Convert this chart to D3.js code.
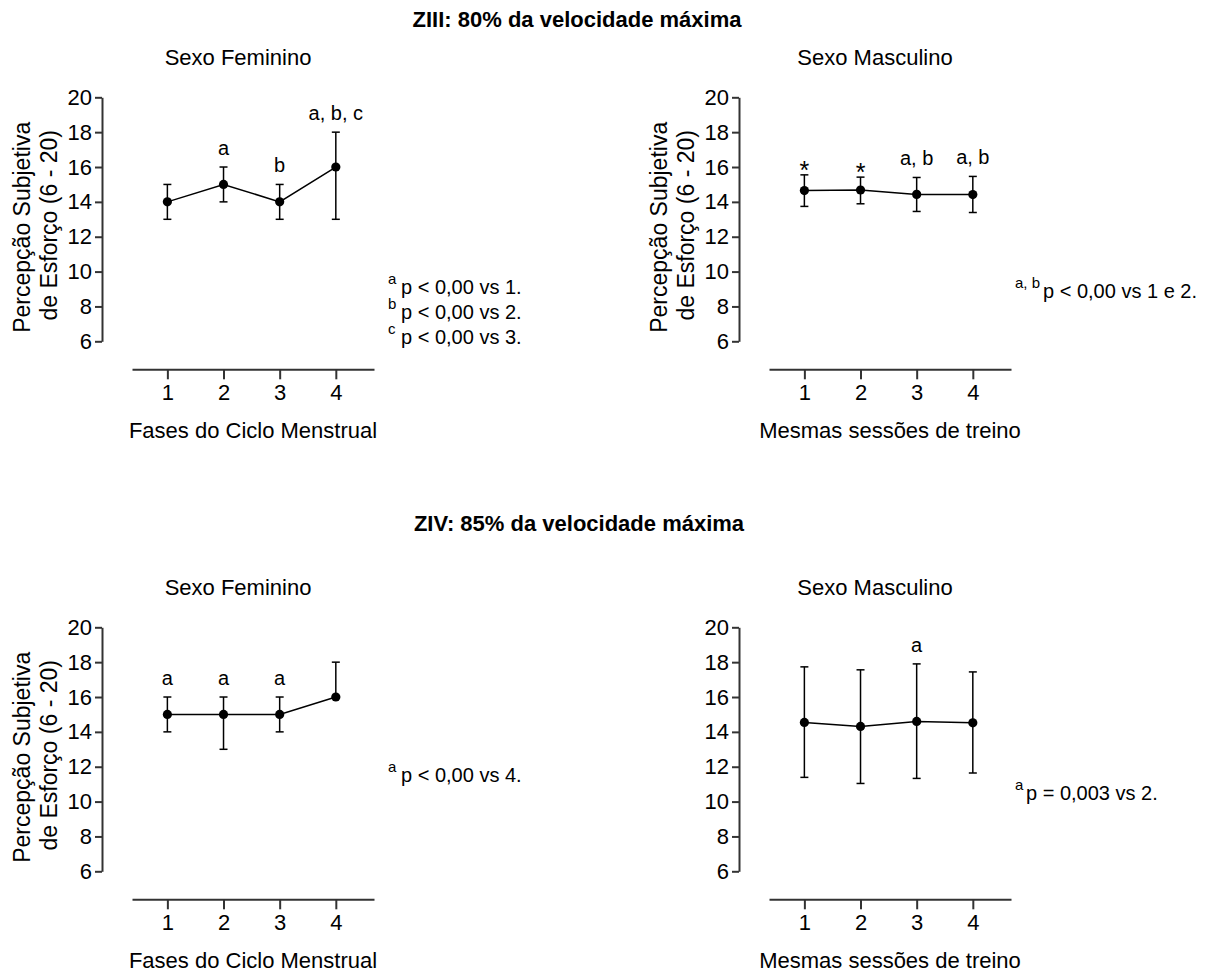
<!DOCTYPE html>
<html lang="pt">
<head>
<meta charset="utf-8">
<title>Percepção Subjetiva de Esforço - ZIII e ZIV</title>
<script src="https://cdn.jsdelivr.net/npm/d3@7"></script>
<style>
  body { margin: 0; background: #fff; }
  text { font-family: "Liberation Sans", Arial, sans-serif; fill: #000; }

  .main-title { font-size: 22px; font-weight: bold; text-anchor: middle; }
  .panel-title { font-size: 22px; text-anchor: middle; }
  .axis-title { font-size: 22px; text-anchor: middle; }
  .y-title { font-size: 23px; text-anchor: middle; }

  .axis path, .axis line { stroke: #333; stroke-width: 2px; }
  .axis text { font-family: "Liberation Sans", Arial, sans-serif; font-size: 22px; fill: #000; }

  .err { stroke: #000; stroke-width: 1.5px; }
  .mean-line { fill: none; stroke: #000; stroke-width: 1.5px; }
  .dot { fill: #000; }
  .note { font-size: 20px; text-anchor: middle; }
  .note.star { font-size: 25px; }
  .legend { font-size: 20px; }
  .legend-sup { font-size: 15px; }
</style>
</head>
<body>
<div id="chart"></div>
<script>

  // x categories and y ticks
  var points = [1, 2, 3, 4];
  var yTicks = [6, 8, 10, 12, 14, 16, 18, 20];

  // ZIII - feminino (fases do ciclo menstrual)
  var z3FemMean  = [14, 15, 14, 16];
  var z3FemUpper = [15, 16, 15, 18];
  var z3FemLower = [13, 14, 13, 13];
  var z3FemNotes = ["", "a", "b", "a, b, c"];

  // ZIII - masculino (mesmas sessoes)
  var z3MascMean  = [14.65, 14.68, 14.43, 14.42];
  var z3MascUpper = [15.55, 15.42, 15.40, 15.46];
  var z3MascLower = [13.74, 13.89, 13.45, 13.39];
  var z3MascNotes = ["*", "*", "a, b", "a, b"];

  // ZIV - feminino
  var z4FemMean  = [15, 15, 15, 16];
  var z4FemUpper = [16, 16, 16, 18];
  var z4FemLower = [14, 13, 14, 16];
  var z4FemNotes = ["a", "a", "a", ""];

  // ZIV - masculino
  var z4MascMean  = [14.54, 14.31, 14.60, 14.52];
  var z4MascUpper = [17.73, 17.56, 17.90, 17.44];
  var z4MascLower = [11.39, 11.04, 11.33, 11.64];
  var z4MascNotes = ["", "", "a", ""];

  var z3FemLegend  = [["a", "p < 0,00 vs 1."], ["b", "p < 0,00 vs 2."], ["c", "p < 0,00 vs 3."]];
  var z3MascLegend = [["a, b", "p < 0,00 vs 1 e 2."]];
  var z4FemLegend  = [["a", "p < 0,00 vs 4."]];
  var z4MascLegend = [["a", "p = 0,003 vs 2."]];

  var width = 1208,
      height = 974,
      plotH = 244,
      yTitle = ["Percepção Subjetiva", "de Esforço (6 - 20)"];

  var svg = d3.select("#chart")
              .append("svg")
              .attr("width", width)
              .attr("height", height);

  svg.append("text").attr("class", "main-title")
     .attr("x", 577).attr("y", 27)
     .text("ZIII: 80% da velocidade máxima");

  svg.append("text").attr("class", "main-title")
     .attr("x", 579).attr("y", 531)
     .text("ZIV: 85% da velocidade máxima");

  var panels = [
    {left: 102, top: 97.3, title: "Sexo Feminino", xTitle: "Fases do Ciclo Menstrual", yTitle: true,
     mean: z3FemMean, upper: z3FemUpper, lower: z3FemLower, notes: z3FemNotes,
     legend: z3FemLegend, legX: 401, supX: 388, legY: 294},
    {left: 739, top: 97.3, title: "Sexo Masculino", xTitle: "Mesmas sessões de treino", yTitle: true,
     mean: z3MascMean, upper: z3MascUpper, lower: z3MascLower, notes: z3MascNotes,
     legend: z3MascLegend, legX: 1043, supX: 1015, legY: 298},
    {left: 102, top: 627.3, title: "Sexo Feminino", xTitle: "Fases do Ciclo Menstrual", yTitle: true,
     mean: z4FemMean, upper: z4FemUpper, lower: z4FemLower, notes: z4FemNotes,
     legend: z4FemLegend, legX: 401, supX: 388, legY: 782},
    {left: 739, top: 627.3, title: "Sexo Masculino", xTitle: "Mesmas sessões de treino", yTitle: false,
     mean: z4MascMean, upper: z4MascUpper, lower: z4MascLower, notes: z4MascNotes,
     legend: z4MascLegend, legX: 1026, supX: 1015, legY: 800}
  ];

  panels.forEach(drawPanel);

  function drawPanel(p) {

    var g = svg.append("g").attr("transform", "translate(" + p.left + "," + p.top + ")");

    var xScale = d3.scaleLinear()
                   .domain([0.37, 4.68])
                   .range([30, 272]);

    var yScale = d3.scaleLinear()
                   .domain([6, 20])
                   .range([plotH, 0]);

    var yAxis = d3.axisLeft(yScale)
                  .tickValues(yTicks)
                  .tickSize(7)
                  .tickSizeOuter(0)
                  .tickPadding(3);

    var xAxis = d3.axisBottom(xScale)
                  .tickValues(points)
                  .tickFormat(d3.format("d"))
                  .tickSize(10)
                  .tickSizeOuter(0)
                  .tickPadding(5);

    g.append("g").attr("class", "y axis").call(yAxis);

    g.append("g").attr("class", "x axis")
     .attr("transform", "translate(0," + (plotH + 28) + ")")
     .call(xAxis);

    g.append("text").attr("class", "panel-title")
     .attr("x", 272 / 2).attr("y", -32)
     .text(p.title);

    g.append("text").attr("class", "axis-title")
     .attr("x", (30 + 272) / 2).attr("y", 341)
     .text(p.xTitle);

    if (p.yTitle) {
      g.append("text").attr("class", "y-title")
       .attr("transform", "rotate(-90)")
       .attr("x", -130).attr("y", -72.5)
       .text(yTitle[0]);
      g.append("text").attr("class", "y-title")
       .attr("transform", "rotate(-90)")
       .attr("x", -128).attr("y", -45)
       .text(yTitle[1]);
    }

    var rows = points.map(function(d, i) {
      return {x: d, mean: p.mean[i], upper: p.upper[i], lower: p.lower[i], note: p.notes[i]};
    });

    // error bars
    var bars = g.selectAll(".bar").data(rows).enter().append("g").attr("class", "bar");
    bars.append("line").attr("class", "err")
        .attr("x1", function(d) { return xScale(d.x); })
        .attr("x2", function(d) { return xScale(d.x); })
        .attr("y1", function(d) { return yScale(d.lower); })
        .attr("y2", function(d) { return yScale(d.upper); });
    bars.append("line").attr("class", "err")
        .attr("x1", function(d) { return xScale(d.x) - 4; })
        .attr("x2", function(d) { return xScale(d.x) + 4; })
        .attr("y1", function(d) { return yScale(d.upper); })
        .attr("y2", function(d) { return yScale(d.upper); });
    bars.append("line").attr("class", "err")
        .attr("x1", function(d) { return xScale(d.x) - 4; })
        .attr("x2", function(d) { return xScale(d.x) + 4; })
        .attr("y1", function(d) { return yScale(d.lower); })
        .attr("y2", function(d) { return yScale(d.lower); });

    var line = d3.line()
                 .x(function(d) { return xScale(d.x); })
                 .y(function(d) { return yScale(d.mean); });

    g.append("path").attr("class", "mean-line").attr("d", line(rows));

    g.selectAll(".dot").data(rows).enter().append("circle")
     .attr("class", "dot")
     .attr("cx", function(d) { return xScale(d.x); })
     .attr("cy", function(d) { return yScale(d.mean); })
     .attr("r", 4.6);

    // significance letters above the bars
    g.selectAll(".note").data(rows.filter(function(d) { return d.note; }))
     .enter().append("text")
     .attr("class", function(d) { return d.note == "*" ? "note star" : "note"; })
     .attr("x", function(d) { return xScale(d.x); })
     .attr("y", function(d) { return yScale(d.upper) + (d.note == "*" ? 4 : -12); })
     .text(function(d) { return d.note; });

    // footnote legend
    p.legend.forEach(function(l, i) {
      var by = p.legY + i * 25;
      svg.append("text").attr("class", "legend-sup")
         .attr("x", p.supX).attr("y", by - 10)
         .text(l[0]);
      svg.append("text").attr("class", "legend")
         .attr("x", p.legX).attr("y", by)
         .text(l[1]);
    });
  }

</script>
</body>
</html>
